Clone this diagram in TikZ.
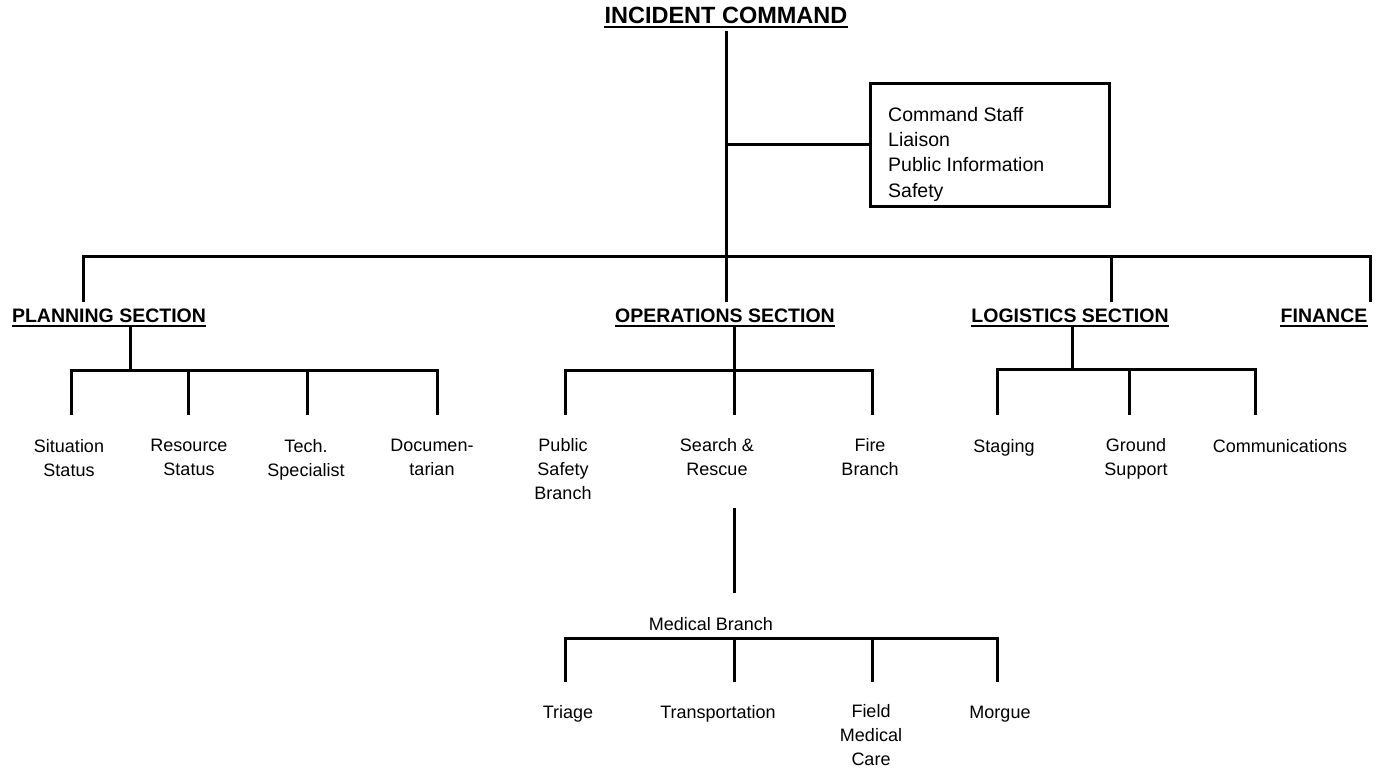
\documentclass[tikz,border=0pt]{standalone}
\usepackage{fontspec}
\setmainfont{Liberation Sans}
\begin{document}
\begin{tikzpicture}[x=1pt,y=-1pt,
  conn/.style={line width=3pt},
  ulin/.style={line width=2pt},
  lbl/.style={font=\fontsize{18}{24.3}\selectfont, align=center, inner sep=0pt, anchor=north,
    execute at begin node={\rule{0pt}{14pt}}},
  head/.style={font=\bfseries\fontsize{19.5}{23}\selectfont, inner sep=0pt, anchor=base},
  title/.style={font=\bfseries\fontsize{23.5}{28}\selectfont, inner sep=0pt, anchor=base},
  staffbox/.style={draw, line width=3pt, minimum width=239pt, minimum height=123.4pt, inner sep=0pt, outer sep=0pt, anchor=north west},
  stafftxt/.style={font=\fontsize{19.5}{25.3}\selectfont, align=left, inner sep=0pt, anchor=north west,
    execute at begin node={\rule{0pt}{15pt}}}]
\useasboundingbox (0,0) rectangle (1384,773);

% top
\node[title] (ic) at (726,23.5) {INCIDENT COMMAND};
\draw[ulin] ([yshift=-4pt]ic.base west) -- ([yshift=-4pt]ic.base east);
\node[staffbox] (staff) at (870,83.3) {};
\node[stafftxt] (stafft) at (888,107) {Command Staff\\Liaison\\Public Information\\Safety};
\coordinate (j1) at (726,145);
\coordinate (bar) at (726,256);
\draw[conn] ([yshift=-8pt]ic.base) -- (bar);
\draw[conn] (j1) -- (j1 -| staff.west);

% sections
\node[head] (ps) at (109,322) {PLANNING SECTION};
\node[head] (os) at (725,322) {OPERATIONS SECTION};
\node[head] (ls) at (1070,322) {LOGISTICS SECTION};
\node[head] (fs) at (1324,322) {FINANCE};
\foreach \n in {ps,os,ls,fs}
  \draw[ulin] ([yshift=-3.6pt]\n.base west) -- ([yshift=-3.6pt]\n.base east);

\coordinate (pd) at (83,302);
\coordinate (od) at (726,302);
\coordinate (ld) at (1111,302);
\coordinate (fd) at (1370,302);
\draw[conn] (pd) |- (bar) -| (fd);
\draw[conn] (bar) -- (od);
\draw[conn] (ld) -- (ld |- bar);

% planning
\coordinate (pt) at (130,327);
\coordinate (pj) at (130,370);
\coordinate (p1) at (71,415);
\coordinate (p2) at (188,415);
\coordinate (p3) at (307,415);
\coordinate (p4) at (437,415);
\draw[conn] (pt) -- (pj);
\draw[conn] (p1) |- (pj) -| (p4);
\draw[conn] (p2) -- (p2 |- pj);
\draw[conn] (p3) -- (p3 |- pj);
\node[lbl] (l1) at (69,439) {Situation\\Status};
\node[lbl] (l2) at (189,439) {Resource\\Status};
\node[lbl] (l3) at (306,439) {Tech.\\Specialist};
\node[lbl] (l4) at (432,439) {Documen-\\tarian};

% operations
\coordinate (ot) at (734,327);
\coordinate (oj) at (734,370);
\coordinate (o1) at (565,415);
\coordinate (o2) at (734,415);
\coordinate (o3) at (872,415);
\draw[conn] (ot) -- (oj);
\draw[conn] (o1) |- (oj) -| (o3);
\draw[conn] (o2) -- (oj);
\node[lbl] (b1) at (563,438) {Public\\Safety\\Branch};
\node[lbl] (b2) at (717,438) {Search \&\\Rescue};
\node[lbl] (b3) at (870,438) {Fire\\Branch};

% medical
\coordinate (st) at (734,508);
\coordinate (sb) at (734,593);
\draw[conn] (st) -- (sb);
\node[font=\fontsize{18}{22}\selectfont, inner sep=0pt, anchor=base] (mb) at (711,630) {Medical Branch};
\coordinate (mj) at (734,638);
\coordinate (m1) at (565,682);
\coordinate (m2) at (734,682);
\coordinate (m3) at (872,682);
\coordinate (m4) at (997,682);
\draw[conn] (m1) |- (mj) -| (m4);
\draw[conn] (m2) -- (mj);
\draw[conn] (m3) -- (m3 |- mj);
\node[lbl] (t1) at (568,704) {Triage};
\node[lbl] (t2) at (718,704) {Transportation};
\node[lbl] (t3) at (871,704) {Field\\Medical\\Care};
\node[lbl] (t4) at (1000,704) {Morgue};

% logistics
\coordinate (lt) at (1072,327);
\coordinate (lj) at (1072,369);
\coordinate (g1) at (997,415);
\coordinate (g2) at (1129,415);
\coordinate (g3) at (1255,415);
\draw[conn] (lt) -- (lj);
\draw[conn] (g1) |- (lj) -| (g3);
\draw[conn] (g2) -- (g2 |- lj);
\node[lbl] (k1) at (1004,438) {Staging};
\node[lbl] (k2) at (1136,438) {Ground\\Support};
\node[lbl] (k3) at (1280,438) {Communications};
\end{tikzpicture}
\end{document}
